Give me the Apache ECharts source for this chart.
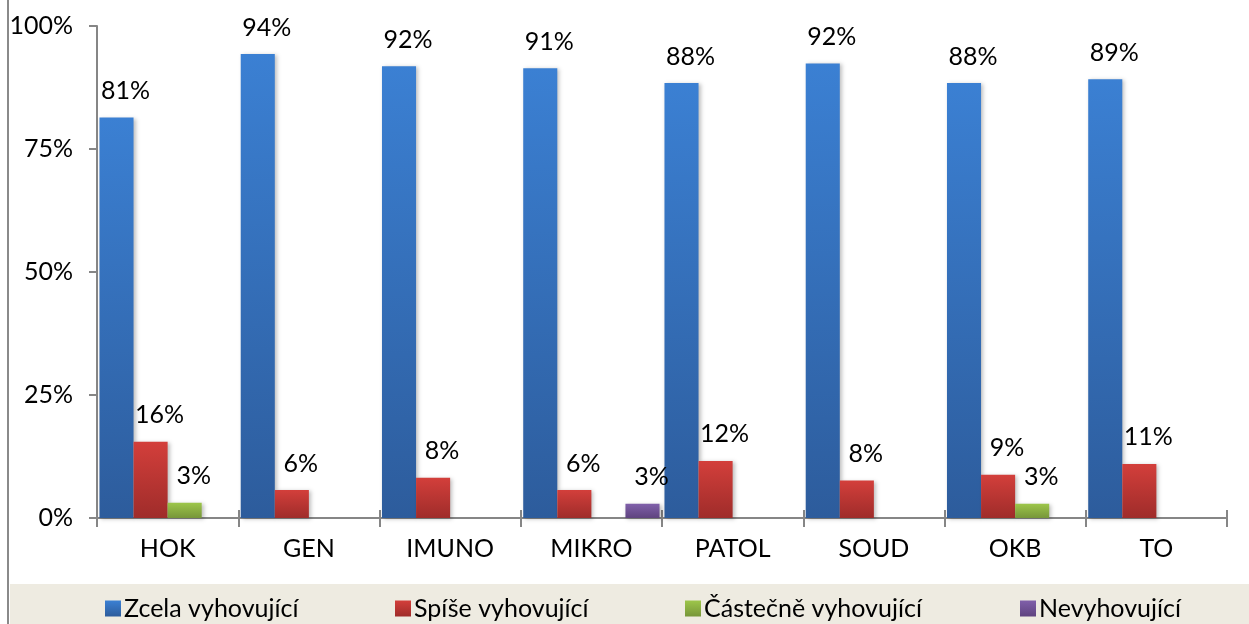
<!DOCTYPE html>
<html><head><meta charset="utf-8">
<script src="https://cdn.jsdelivr.net/npm/echarts@6/dist/echarts.min.js"></script>
<style>html,body{margin:0;padding:0;background:#fff}#c{width:1249px;height:624px}</style>
</head><body><div id="c"></div>
<script>
const categories = ['HOK','GEN','IMUNO','MIKRO','PATOL','SOUD','OKB','TO'];
const seriesNames = ['Zcela vyhovující','Spíše vyhovující','Částečně vyhovující','Nevyhovující'];
const zcela = [81.4, 94.3, 91.8, 91.4, 88.4, 92.4, 88.4, 89.2];
const spise = [15.5, 5.7, 8.2, 5.7, 11.6, 7.6, 8.8, 11.0];
const castecne = [3.1, null, null, null, null, null, 2.9, null];
const nevyhovujici = [null, null, null, 2.9, null, null, null, null];
const yTicks = [0, 25, 50, 75, 100];

const FONT = 'Lato, "Open Sans", sans-serif';
const FS = 25;
const values = [zcela, spise, castecne, nevyhovujici];
const grads = [['#3b80d3','#2d5c9c'],['#d33f3b','#9f2c2a'],['#9dc64a','#779639'],['#8060aa','#5f437f']];
const legendLeft = [100, 390, 680, 1015];

const chart = echarts.init(document.getElementById('c'));
const grad = (c) => new echarts.graphic.LinearGradient(0,0,0,1,[{offset:0,color:c[0]},{offset:1,color:c[1]}]);
const axisGray = '#868686';
chart.setOption({
  animation:false,
  textStyle:{fontFamily:FONT},
  graphic:[
    {type:'rect', shape:{x:10,y:584,width:1239,height:40}, style:{fill:'#eeebe1'}, z:-1},
    {type:'line', shape:{x1:8,y1:0,x2:8,y2:624}, style:{stroke:'#8a8a8a',lineWidth:2}}
  ],
  legend: seriesNames.map((n,i)=>({
    data:[n], left:legendLeft[i], top:591, itemWidth:16, itemHeight:16, itemGap:0,
    icon:'rect', textStyle:{fontSize:FS,color:'#000',fontFamily:FONT, padding:[0,0,0,-2]}
  })),
  grid:{left:97,right:22,top:26,bottom:106},
  xAxis:[{type:'category',data:categories,
    axisLine:{lineStyle:{color:axisGray,width:2}},
    axisTick:{show:true,length:9,lineStyle:{color:axisGray,width:2}},
    axisLabel:{fontSize:FS,color:'#000',margin:18,fontFamily:FONT}},
   {type:'category',data:categories,position:'bottom',
    axisLine:{show:false},
    axisTick:{show:true,inside:true,length:8,lineStyle:{color:axisGray,width:2}},
    axisLabel:{show:false}}],
  yAxis:{type:'value',min:0,max:100,interval:25,
    splitLine:{show:false},
    axisLine:{show:true,lineStyle:{color:axisGray,width:2}},
    axisTick:{show:true,length:8,lineStyle:{color:axisGray,width:2}},
    axisLabel:{fontSize:FS,color:'#000',margin:24,fontFamily:FONT,
      formatter:(v)=> yTicks.includes(v) ? v+'%' : ''}},
  series: seriesNames.map((n,i)=>({
    name:n, type:'bar', data:values[i], barGap:'0%', barCategoryGap:'3.5%', xAxisIndex:0,
    itemStyle:{color:grad(grads[i]), shadowColor:'rgba(0,0,0,0.25)', shadowBlur:4, shadowOffsetX:2, shadowOffsetY:1},
    label:{show:true, position:'top', distance:14, offset:[9,0], fontSize:FS, color:'#000', fontFamily:FONT,
      formatter:(p)=> p.value==null ? '' : Math.round(p.value)+'%'}
  }))
});
</script></body></html>
